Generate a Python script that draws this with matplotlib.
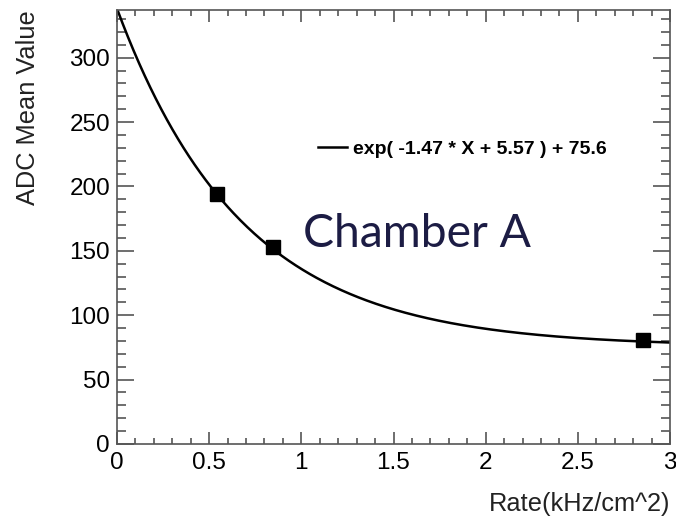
import numpy as np
import matplotlib
matplotlib.use("Agg")
import matplotlib.pyplot as plt
from matplotlib.ticker import MultipleLocator

# Data
rate = [0.54, 0.845, 2.855]
adc_mean = [194.5, 153.0, 80.5]
fit_params = [-1.47, 5.57, 75.6]  # exp(p0*X + p1) + p2
x_ticks = [0, 0.5, 1, 1.5, 2, 2.5, 3]
x_tick_labels = ["0", "0.5", "1", "1.5", "2", "2.5", "3"]
y_ticks = [0, 50, 100, 150, 200, 250, 300]
y_tick_labels = ["0", "50", "100", "150", "200", "250", "300"]

plt.rcParams['font.family'] = ['Liberation Sans', 'DejaVu Sans']

fig = plt.figure(figsize=(6.76, 5.17), dpi=100)
ax = fig.add_axes([117/676, 73/517, 553/676, 434/517])

xs = np.linspace(0, 3, 400)
fit_label = "exp( %.2f * X + %.2f ) + %.1f" % tuple(fit_params)
ax.plot(xs, np.exp(fit_params[0]*xs + fit_params[1]) + fit_params[2],
        color='black', lw=1.8, label=fit_label, zorder=2)
ax.plot(rate, adc_mean, 's', color='black', markersize=10.5, zorder=3)

ax.set_xlim(0, 3)
ax.set_ylim(0, 337)
ax.set_xticks(x_ticks)
ax.set_xticklabels(x_tick_labels)
ax.set_yticks(y_ticks)
ax.set_yticklabels(y_tick_labels)
ax.xaxis.set_minor_locator(MultipleLocator(0.1))
ax.yaxis.set_minor_locator(MultipleLocator(10))

spine_col = '#555555'
for s in ax.spines.values():
    s.set_color(spine_col)
    s.set_linewidth(1.2)

ax.tick_params(axis='both', which='both', direction='in', top=True, right=True,
               color=spine_col, width=1.2, labelsize=17.5)
ax.tick_params(axis='x', which='major', length=8.5, pad=6)
ax.tick_params(axis='x', which='minor', length=4.3)
ax.tick_params(axis='y', which='major', length=12.5, pad=5)
ax.tick_params(axis='y', which='minor', length=6.5)

ax.set_xlabel("Rate(kHz/cm^2)", fontsize=18.3, color='#222222')
ax.xaxis.set_label_coords(1.0, -0.11)
ax.xaxis.label.set_horizontalalignment('right')
ax.set_ylabel("ADC Mean Value", fontsize=18.3, color='#222222')
ax.yaxis.set_label_coords(-0.14, 1.0)
ax.yaxis.label.set_horizontalalignment('right')

leg = ax.legend(loc='center left', bbox_to_anchor=(1.05/3, 228.7/337), frameon=False,
                handlelength=1.5, handletextpad=0.3, borderaxespad=0,
                prop={'family': 'Liberation Sans', 'weight': 'bold', 'size': 14})

ax.text(1.01, 152.7, "Chamber A", fontsize=33.3, family='Lato', color='#1c1c44',
        va='baseline', ha='left')

fig.savefig("out.png", dpi=100)
